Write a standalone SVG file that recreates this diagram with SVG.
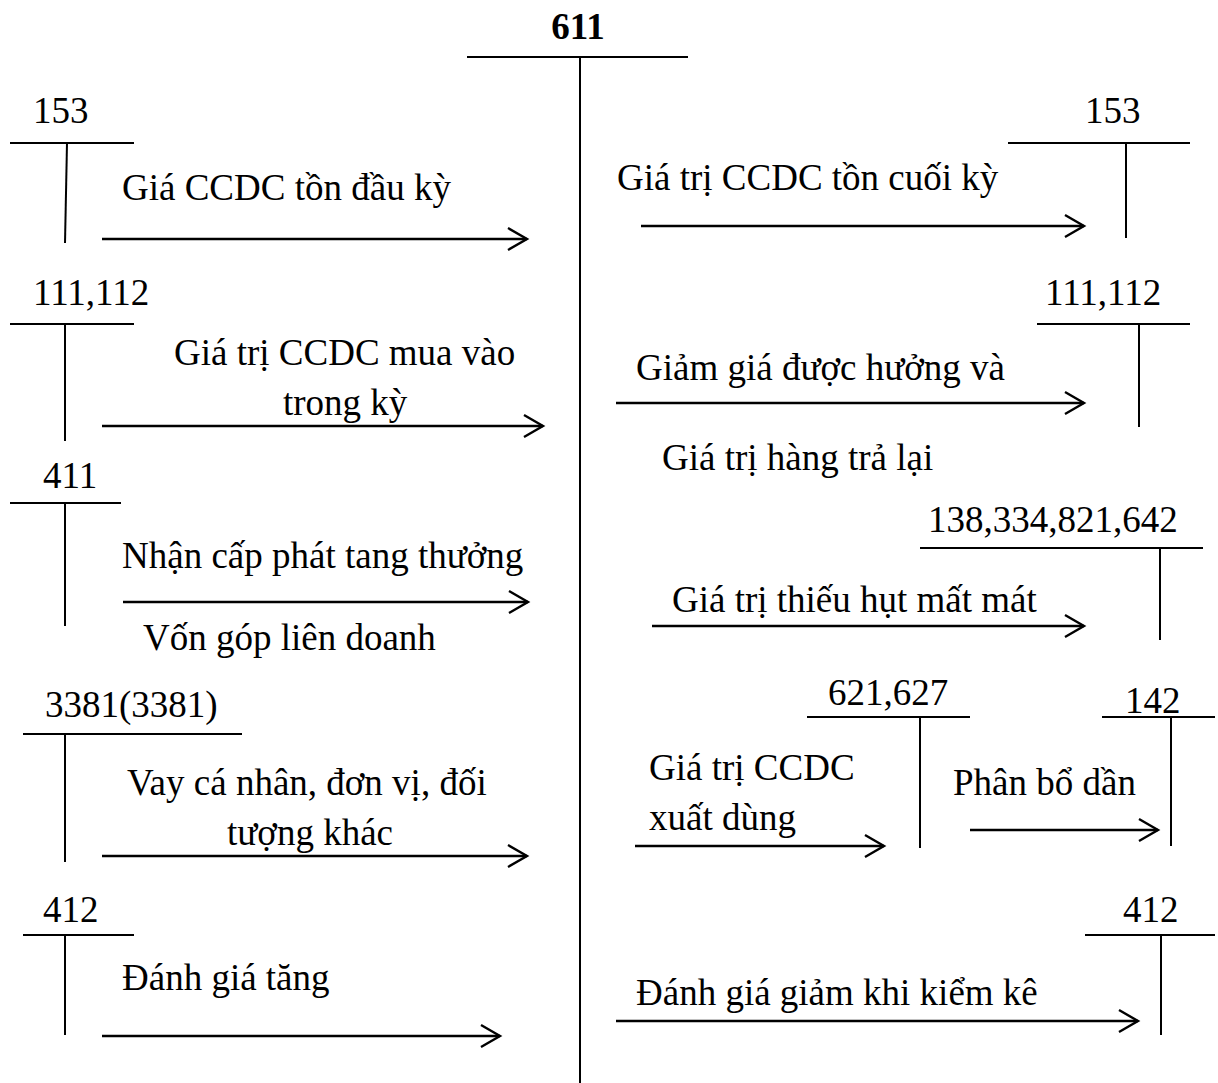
<svg xmlns="http://www.w3.org/2000/svg" width="1218" height="1083" viewBox="0 0 1218 1083">
<defs>
<marker id="arr" markerWidth="24" markerHeight="26" refX="21" refY="13" orient="auto" markerUnits="userSpaceOnUse">
<path d="M2,2 L21,13 L2,24" fill="none" stroke="#000" stroke-width="2.4"/>
</marker>
<style>
.t{font-family:"Liberation Serif","Times New Roman",serif;font-size:37px;fill:#000}
.b{font-weight:bold}
.ln{stroke:#000;stroke-width:2;fill:none}
.ar{stroke:#000;stroke-width:2.5;fill:none;marker-end:url(#arr)}
</style>
</defs>
<rect width="1218" height="1083" fill="#fff"/>

<g id="acc611">
<text class="t b" x="578" y="39" text-anchor="middle">611</text>
<line class="ln" x1="467" y1="57" x2="688" y2="57"/>
<line class="ln" x1="580" y1="57" x2="580" y2="1083"/>
</g>

<g id="l153">
<text class="t" x="33" y="123">153</text>
<line class="ln" x1="10" y1="143" x2="134" y2="143"/>
<line class="ln" x1="67" y1="143" x2="65" y2="243"/>
</g>
<g id="l111">
<text class="t" x="33" y="305">111,112</text>
<line class="ln" x1="10" y1="324" x2="134" y2="324"/>
<line class="ln" x1="65" y1="324" x2="65" y2="441"/>
</g>
<g id="l411">
<text class="t" x="43" y="488">411</text>
<line class="ln" x1="10" y1="503" x2="121" y2="503"/>
<line class="ln" x1="65" y1="503" x2="65" y2="626"/>
</g>
<g id="l3381">
<text class="t" x="45" y="717">3381(3381)</text>
<line class="ln" x1="23" y1="734" x2="242" y2="734"/>
<line class="ln" x1="65" y1="734" x2="65" y2="862"/>
</g>
<g id="l412">
<text class="t" x="43" y="922">412</text>
<line class="ln" x1="23" y1="935" x2="134" y2="935"/>
<line class="ln" x1="65" y1="935" x2="65" y2="1035"/>
</g>

<g id="r153">
<text class="t" x="1085" y="123">153</text>
<line class="ln" x1="1008" y1="143" x2="1190" y2="143"/>
<line class="ln" x1="1126" y1="143" x2="1126" y2="238"/>
</g>
<g id="r111">
<text class="t" x="1045" y="305">111,112</text>
<line class="ln" x1="1037" y1="324" x2="1190" y2="324"/>
<line class="ln" x1="1139" y1="324" x2="1139" y2="427"/>
</g>
<g id="r138">
<text class="t" x="928" y="532">138,334,821,642</text>
<line class="ln" x1="920" y1="548" x2="1203" y2="548"/>
<line class="ln" x1="1160" y1="548" x2="1160" y2="640"/>
</g>
<g id="r621">
<text class="t" x="828" y="705">621,627</text>
<line class="ln" x1="807" y1="717" x2="970" y2="717"/>
<line class="ln" x1="920" y1="717" x2="920" y2="848"/>
</g>
<g id="r142">
<text class="t" x="1125" y="713">142</text>
<line class="ln" x1="1102" y1="717" x2="1215" y2="717"/>
<line class="ln" x1="1171" y1="717" x2="1171" y2="846"/>
</g>
<g id="r412">
<text class="t" x="1123" y="922">412</text>
<line class="ln" x1="1085" y1="935" x2="1215" y2="935"/>
<line class="ln" x1="1161" y1="935" x2="1161" y2="1035"/>
</g>

<g id="connectors">
<line class="ar" x1="102" y1="239" x2="527" y2="239"/>
<line class="ar" x1="102" y1="426" x2="543" y2="426"/>
<line class="ar" x1="123" y1="602" x2="528" y2="602"/>
<line class="ar" x1="102" y1="856" x2="527" y2="856"/>
<line class="ar" x1="102" y1="1036" x2="500" y2="1036"/>
<line class="ar" x1="641" y1="226" x2="1084" y2="226"/>
<line class="ar" x1="616" y1="403" x2="1084" y2="403"/>
<line class="ar" x1="652" y1="626" x2="1084" y2="626"/>
<line class="ar" x1="635" y1="846" x2="884" y2="846"/>
<line class="ar" x1="970" y1="830" x2="1158" y2="830"/>
<line class="ar" x1="616" y1="1021" x2="1138" y2="1021"/>
</g>

<g id="labels">
<text class="t" x="122" y="200">Giá CCDC tồn đầu kỳ</text>
<text class="t" x="174" y="365">Giá trị CCDC mua vào</text>
<text class="t" x="283" y="415">trong kỳ</text>
<text class="t" x="122" y="568">Nhận cấp phát tang thưởng</text>
<text class="t" x="143" y="650">Vốn góp liên doanh</text>
<text class="t" x="127" y="795">Vay cá nhân, đơn vị, đối</text>
<text class="t" x="227" y="845">tượng khác</text>
<text class="t" x="122" y="990">Đánh giá tăng</text>
<text class="t" x="617" y="190">Giá trị CCDC tồn cuối kỳ</text>
<text class="t" x="636" y="380">Giảm giá được hưởng và</text>
<text class="t" x="662" y="470">Giá trị hàng trả lại</text>
<text class="t" x="672" y="612">Giá trị thiếu hụt mất mát</text>
<text class="t" x="649" y="780">Giá trị CCDC</text>
<text class="t" x="649" y="830">xuất dùng</text>
<text class="t" x="953" y="795">Phân bổ dần</text>
<text class="t" x="636" y="1005">Đánh giá giảm khi kiểm kê</text>
</g>
</svg>
